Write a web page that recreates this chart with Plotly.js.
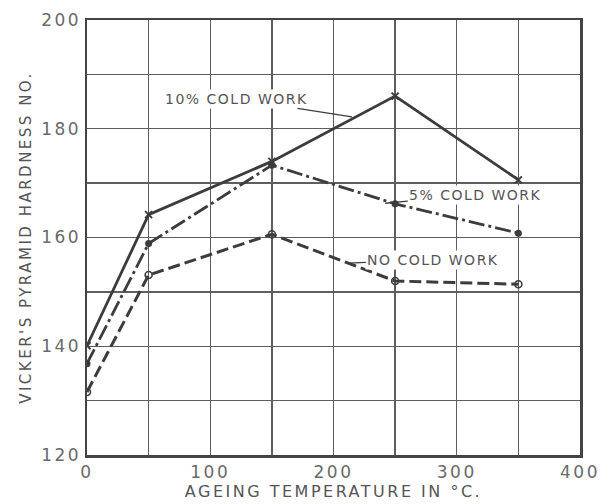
<!DOCTYPE html>
<html>
<head>
<meta charset="utf-8">
<script src="https://cdn.plot.ly/plotly-3.0.1.min.js"></script>
<style>
  html, body { margin: 0; padding: 0; background: #fff; }
  #chart { width: 609px; height: 504px; }
  .xtick text, .ytick text { letter-spacing: 2.5px; }
  .annotation-text { letter-spacing: 1.5px; }
  .g-xtitle text, .g-ytitle text { letter-spacing: 2.5px; }
</style>
</head>
<body>
<div id="chart"></div>
<script>
// Ageing temperature (°C)
const temperature = [0, 50, 150, 250, 350];
// Vicker's pyramid hardness number
const hardness10 = [140.1, 164.2, 174.0, 186.0, 170.6];
const hardness5  = [136.8, 158.9, 173.3, 166.2, 160.8];
const hardness0  = [131.6, 153.1, 160.6, 152.0, 151.4];

const seriesNames = ["10% COLD WORK", "5% COLD WORK", "NO COLD WORK"];

const yTickVals = [120,130,140,150,160,170,180,190,200];
const yTickText = ["120","","140","","160","","180","","200"];
const xTickVals = [0,50,100,150,200,250,300,350,400];
const xTickText = ["0","","100","","200","","300","","400"];

const ink = "#3c3c3c";
const textInk = "#555555";
const gridInk = "#5e5e5e";

const traces = [
  {
    x: temperature, y: hardness10, name: seriesNames[0], mode: "lines+markers",
    line: { color: ink, width: 2.8, dash: "solid" },
    marker: { symbol: "x-thin", size: 7, line: { color: ink, width: 2 }, color: ink }
  },
  {
    x: temperature, y: hardness5, name: seriesNames[1], mode: "lines+markers",
    line: { color: ink, width: 2.8, dash: "16px,4px,3px,4px" },
    marker: { symbol: "circle", size: 7, color: ink }
  },
  {
    x: temperature, y: hardness0, name: seriesNames[2], mode: "lines+markers",
    line: { color: ink, width: 3, dash: "12px,5px" },
    marker: { symbol: "circle-open", size: 7, color: ink, line: { color: ink, width: 1.6 } }
  }
];

const tickFont = { family: "DejaVu Sans, sans-serif", size: 17, color: "#6a6a6a" };
const labelFont = { family: "DejaVu Sans, sans-serif", size: 14, color: textInk };

const layout = {
  width: 609, height: 504,
  margin: { l: 87, r: 29, t: 20, b: 49 },
  paper_bgcolor: "#fff", plot_bgcolor: "#fff",
  showlegend: false,
  xaxis: {
    range: [0, 400], tickmode: "array", tickvals: xTickVals, ticktext: xTickText,
    showgrid: true, gridcolor: gridInk, gridwidth: 1.3, zeroline: false,
    showline: true, mirror: true, linecolor: "#444", linewidth: 2.5,
    ticks: "", tickfont: tickFont,
    title: { text: "AGEING TEMPERATURE IN °C.", font: { family: "DejaVu Sans, sans-serif", size: 16, color: "#555" }, standoff: 5 }
  },
  yaxis: {
    range: [120, 200], tickmode: "array", tickvals: yTickVals, ticktext: yTickText,
    showgrid: true, gridcolor: gridInk, gridwidth: 1.3, zeroline: false,
    showline: true, mirror: true, linecolor: "#444", linewidth: 2.5,
    ticks: "", tickfont: tickFont,
    title: { text: "VICKER'S PYRAMID HARDNESS NO.", font: { family: "DejaVu Sans, sans-serif", size: 15, color: "#555" }, standoff: 6 }
  },
  annotations: [
    {
      text: seriesNames[0], x: 215, y: 182.2, ax: 121, ay: 185.5,
      xref: "x", yref: "y", axref: "x", ayref: "y",
      showarrow: true, arrowhead: 0, arrowwidth: 1.3, arrowcolor: ink,
      font: labelFont, bgcolor: "#fff", borderpad: 1
    },
    {
      text: seriesNames[1], x: 242, y: 166.3, ax: 315, ay: 167.8,
      xref: "x", yref: "y", axref: "x", ayref: "y",
      showarrow: true, arrowhead: 0, arrowwidth: 1.3, arrowcolor: ink,
      font: labelFont, bgcolor: "#fff", borderpad: 1
    },
    {
      text: seriesNames[2], x: 212, y: 155.3, ax: 281, ay: 155.9,
      xref: "x", yref: "y", axref: "x", ayref: "y",
      showarrow: true, arrowhead: 0, arrowwidth: 1.3, arrowcolor: ink,
      font: labelFont, bgcolor: "#fff", borderpad: 1
    }
  ]
};

Plotly.newPlot("chart", traces, layout, { displayModeBar: false, staticPlot: true });
</script>
</body>
</html>
